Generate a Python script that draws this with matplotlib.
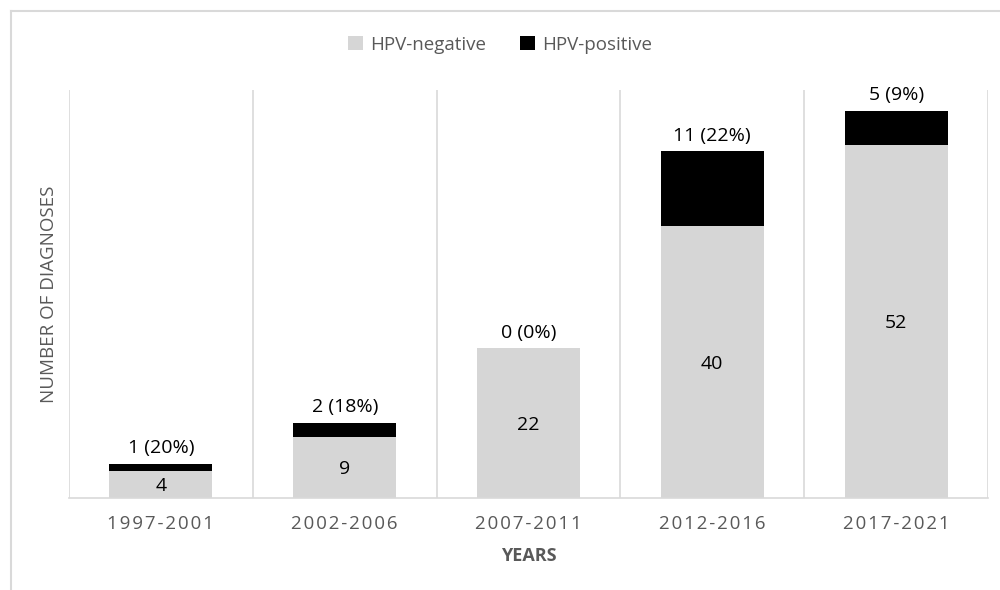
import matplotlib.pyplot as plt
from matplotlib.lines import Line2D

plt.rcParams['font.family'] = ['Open Sans', 'DejaVu Sans']

# Data
periods = ['1997-2001', '2002-2006', '2007-2011', '2012-2016', '2017-2021']
hpv_negative = [4, 9, 22, 40, 52]
hpv_positive = [1, 2, 0, 11, 5]
pos_labels = ['1 (20%)', '2 (18%)', '0 (0%)', '11 (22%)', '5 (9%)']

gray = '#d6d6d6'
text_gray = '#595959'

fig = plt.figure(figsize=(10, 5.9), dpi=100)
ax = fig.add_axes([0.069, 0.156, 0.919, 0.691])

x = range(len(periods))
ax.bar(x, hpv_negative, width=0.56, color=gray, label='HPV-negative')
ax.bar(x, hpv_positive, width=0.56, bottom=hpv_negative, color='black', label='HPV-positive')

for i in x:
    ax.text(i, hpv_negative[i] / 2 - 0.3, str(hpv_negative[i]), ha='center', va='center',
            fontsize=14, color='black')
    top = hpv_negative[i] + hpv_positive[i]
    ax.text(i, top + 1.0, pos_labels[i], ha='center', va='bottom', fontsize=14, color='black')

# category separators
for b in [-0.5, 0.5, 1.5, 2.5, 3.5, 4.5]:
    ax.axvline(b, color='#d9d9d9', lw=1.2, zorder=0)

# letter-spaced tick labels
spaced = ['\u200a'.join(p) for p in periods]

ax.set_xlim(-0.5, 4.5)
ax.set_ylim(0, 60)
ax.set_yticks([])
ax.set_xticks(list(x))
ax.set_xticklabels(spaced, fontsize=13.5, color=text_gray)
ax.tick_params(axis='x', length=0, pad=12)
for s in ['top', 'right', 'left']:
    ax.spines[s].set_visible(False)
ax.spines['bottom'].set_color('#d9d9d9')
ax.spines['bottom'].set_linewidth(1.2)

ax.set_ylabel('NUMBER OF DIAGNOSES', fontsize=13.5, color=text_gray, labelpad=8)
ax.set_xlabel('YEARS', fontsize=13, fontweight='bold', color=text_gray, labelpad=10)

fig.legend(loc='center', bbox_to_anchor=(0.5, 0.924), ncol=2, frameon=False,
           fontsize=13.5, handlelength=0.8, handleheight=0.8, columnspacing=1.8,
           handletextpad=0.4, labelcolor=text_gray)

# figure border (top and left only)
fig.add_artist(Line2D([0.011, 1.0], [1 - 11 / 590, 1 - 11 / 590], transform=fig.transFigure,
                      color='#d9d9d9', lw=1.5))
fig.add_artist(Line2D([0.011, 0.011], [0, 1 - 11 / 590], transform=fig.transFigure,
                      color='#d9d9d9', lw=1.5))

fig.savefig('out.png', dpi=100)
